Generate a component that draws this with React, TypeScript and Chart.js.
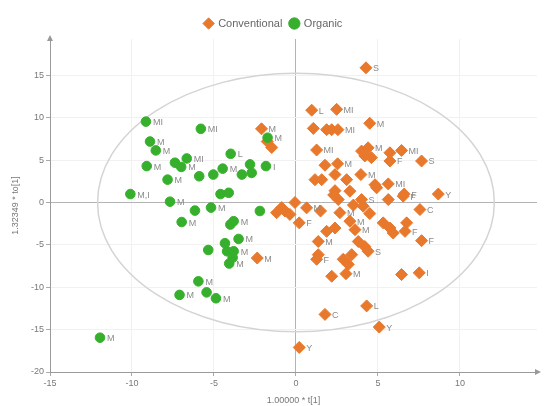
import React, { useEffect, useRef } from "react";
import { Chart, registerables } from "chart.js";

Chart.register(...registerables);

// ---- data ----
const conventionalX = [
  4.27, 0.96, 2.48, 4.5, 1.06, 1.87, 2.18, 2.56, 1.26, 4.0,
  4.4, 4.6, 4.2, 5.73, 6.44, 7.66, 5.73, 1.77, 2.54, 1.16,
  1.57, 2.38, 3.09, 3.96, 4.82, 5.63, 2.38, 6.6, 8.68, -0.06,
  -0.67, -0.37, 0.65, 0.2, 2.58, 2.68, 3.29, 4.0, 4.1, 4.92,
  5.63, 6.54, 7.56, 3.29, 5.32, 5.73, 5.93, 6.75, 6.65, 1.87,
  2.38, 3.6, 7.66, 1.36, 3.8, 4.2, 4.4, 1.36, 1.26, 2.88,
  3.4, 3.19, 2.18, 3.05, 6.44, 7.52, 4.31, 1.77, 5.08, 0.2,
  -2.1, -1.48, -1.75, -0.87, -1.18, -2.36, 1.5, 3.5, 2.3, 4.5,
];
const conventionalY = [
  15.9, 10.9, 11.0, 9.35, 8.75, 8.6, 8.6, 8.6, 6.2, 6.07,
  6.46, 5.3, 5.5, 5.87, 6.15, 4.9, 4.9, 4.4, 4.57, 2.7,
  2.7, 3.3, 2.7, 3.3, 2.1, 2.2, 1.4, 1.0, 1.0, 0.0,
  -1.0, -1.4, -0.63, -2.4, 0.35, -1.2, 1.34, 0.35, -0.44, 1.74,
  0.35, 0.75, -0.83, -2.2, -2.4, -3.0, -3.6, -2.4, -3.4, -3.4,
  -3.0, -3.2, -4.5, -4.6, -4.6, -5.2, -5.75, -6.15, -6.7, -6.7,
  -6.15, -7.3, -8.7, -8.4, -8.5, -8.3, -12.2, -13.2, -14.7, -17.1,
  8.7, 6.5, 7.2, -0.6, -1.2, -6.55, -1.0, -0.3, 0.9, -1.3,
];
const conventionalLabels = [
  "S", "L", "MI", "M", "", "", "", "MI", "MI", "",
  "M", "", "", "", "MI", "S", "F", "", "M", "",
  "", "", "", "M", "", "MI", "", "F", "Y", "",
  "", "", "M", "F", "", "M", "", "S", "", "",
  "", "F", "C", "M", "", "", "", "", "F", "",
  "", "M", "F", "M", "", "", "S", "", "F", "",
  "", "", "", "M", "", "I", "L", "C", "Y", "Y",
  "M", "", "", "", "", "M", "", "", "", "",
];

const organicX = [
  -9.15, -5.8, -8.9, -8.55, -3.98, -9.1, -7.38, -6.66, -7.0, -7.83,
  -5.9, -5.04, -4.47, -3.3, -2.8, -2.7, -1.83, -10.1, -4.6, -4.1,
  -7.68, -1.73, -6.16, -5.18, -2.2, -6.97, -4.0, -3.8, -3.5, -5.35,
  -4.33, -4.2, -3.8, -3.86, -4.07, -5.95, -7.1, -5.45, -4.88, -11.95,
];
const organicY = [
  9.55, 8.7, 7.2, 6.15, 5.75, 4.3, 4.7, 5.2, 4.2, 2.7,
  3.1, 3.3, 4.0, 3.3, 4.5, 3.5, 4.3, 1.0, 1.0, 1.15,
  0.1, 7.65, -0.95, -0.6, -1.0, -2.3, -2.6, -2.2, -4.3, -5.6,
  -4.8, -5.75, -5.75, -6.5, -7.2, -9.3, -10.9, -10.6, -11.3, -15.95,
];
const organicLabels = [
  "MI", "MI", "M", "M", "L", "M", "", "MI", "M", "M",
  "", "", "M", "", "", "", "I", "M,I", "", "",
  "M", "M", "", "M", "", "M", "", "M", "M", "",
  "", "", "M", "", "M", "M", "M", "", "M", "M",
];

const xTitle = "1.00000 * t[1]";
const yTitle = "1.32349 * to[1]";
const xMin = -15;
const xMax = 14.7;
const yMin = -20;
const yMax = 19.3;
const tickStep = 5;
const ellipseRX = 12.1;
const ellipseRY = 15.25;

const ORANGE = "#E8782C";
const GREEN = "#36B02C";
const FONT = "'Liberation Sans', Arial, sans-serif";

const ellipsePlugin = {
  id: "hotelling",
  beforeDatasetsDraw(chart: any) {
    const { ctx, scales } = chart;
    const xs = scales.x;
    const ys = scales.y;
    const cx = xs.getPixelForValue(0);
    const cy = ys.getPixelForValue(0);
    const rx = Math.abs(xs.getPixelForValue(ellipseRX) - cx);
    const ry = Math.abs(ys.getPixelForValue(ellipseRY) - cy);
    ctx.save();
    ctx.strokeStyle = "#d4d4d4";
    ctx.lineWidth = 1.5;
    ctx.beginPath();
    ctx.ellipse(cx, cy, rx, ry, 0, 0, Math.PI * 2);
    ctx.stroke();
    ctx.restore();
  },
};

const pointLabelPlugin = {
  id: "pointLabels",
  afterDatasetsDraw(chart: any) {
    const { ctx } = chart;
    ctx.save();
    ctx.font = "9px " + FONT;
    ctx.fillStyle = "#8a8a8a";
    ctx.textBaseline = "middle";
    ctx.textAlign = "left";
    chart.data.datasets.forEach((ds: any, di: number) => {
      const meta = chart.getDatasetMeta(di);
      const labels: string[] = ds.pointLabels || [];
      meta.data.forEach((el: any, i: number) => {
        const t = labels[i];
        if (t) ctx.fillText(t, el.x + 7, el.y + 1);
      });
    });
    ctx.restore();
  },
};

const arrowPlugin = {
  id: "axisArrows",
  afterDraw(chart: any) {
    const { ctx, chartArea } = chart;
    ctx.save();
    ctx.fillStyle = "#999";
    ctx.beginPath();
    ctx.moveTo(chartArea.right + 4, chartArea.bottom);
    ctx.lineTo(chartArea.right - 2, chartArea.bottom - 3);
    ctx.lineTo(chartArea.right - 2, chartArea.bottom + 3);
    ctx.closePath();
    ctx.fill();
    ctx.beginPath();
    ctx.moveTo(chartArea.left, chartArea.top - 4);
    ctx.lineTo(chartArea.left - 3, chartArea.top + 2);
    ctx.lineTo(chartArea.left + 3, chartArea.top + 2);
    ctx.closePath();
    ctx.fill();
    ctx.restore();
  },
};

export default function App() {
  const ref = useRef<HTMLCanvasElement | null>(null);

  useEffect(() => {
    document.body.style.margin = "0";
    const canvas = ref.current;
    if (!canvas) return;
    const conventional = conventionalX.map((x, i) => ({ x, y: conventionalY[i] }));
    const organic = organicX.map((x, i) => ({ x, y: organicY[i] }));
    const gridColor = (c: any) =>
      c.tick && c.tick.value === 0 ? "#b4b4b4" : "#f1f1f1";
    const chart = new Chart(canvas, {
      type: "scatter",
      data: {
        datasets: [
          {
            label: "Conventional",
            data: conventional,
            pointStyle: "rectRot",
            pointRadius: 6,
            pointHoverRadius: 6,
            backgroundColor: ORANGE,
            borderColor: ORANGE,
            borderWidth: 1,
            order: 1,
            pointLabels: conventionalLabels,
          } as any,
          {
            label: "Organic",
            data: organic,
            pointStyle: "circle",
            pointRadius: 4.8,
            pointHoverRadius: 4.8,
            backgroundColor: GREEN,
            borderColor: GREEN,
            borderWidth: 1,
            order: 0,
            pointLabels: organicLabels,
          } as any,
        ],
      },
      options: {
        animation: false,
        responsive: false,
        layout: { padding: { top: 10, right: 11, left: 10, bottom: 0 } },
        plugins: {
          tooltip: { enabled: false },
          legend: {
            position: "top",
            labels: {
              usePointStyle: true,
              boxWidth: 8,
              boxHeight: 8,
              color: "#666",
              font: { size: 11, family: FONT },
              padding: 8,
              sort: (a: any, b: any) => a.datasetIndex - b.datasetIndex,
            },
          },
        },
        scales: {
          x: {
            type: "linear",
            min: xMin,
            max: xMax,
            ticks: {
              stepSize: tickStep,
              includeBounds: false,
              color: "#777",
              font: { size: 9, family: FONT },
              padding: 2,
              maxRotation: 0,
            },
            grid: { color: gridColor, tickLength: 4, tickColor: "#aaa" },
            border: { color: "#9a9a9a" },
            title: {
              display: true,
              text: xTitle,
              color: "#777",
              font: { size: 9, family: FONT },
              padding: { top: 2, bottom: 0 },
            },
            afterFit: (s: any) => {
              s.height = 34;
            },
          },
          y: {
            type: "linear",
            min: yMin,
            max: yMax,
            ticks: {
              stepSize: tickStep,
              includeBounds: false,
              color: "#777",
              font: { size: 9, family: FONT },
              padding: 2,
            },
            grid: { color: gridColor, tickLength: 4, tickColor: "#aaa" },
            border: { color: "#9a9a9a" },
            title: {
              display: true,
              text: yTitle,
              color: "#777",
              font: { size: 9, family: FONT },
              padding: { top: 0, bottom: 4 },
            },
            afterFit: (s: any) => {
              s.width = 40;
            },
          },
        },
      },
      plugins: [ellipsePlugin, pointLabelPlugin, arrowPlugin],
    });
    return () => chart.destroy();
  }, []);

  return (
    <div style={{ width: 548, height: 406, background: "#fff" }}>
      <canvas ref={ref} width={548} height={406} style={{ display: "block" }} />
    </div>
  );
}
